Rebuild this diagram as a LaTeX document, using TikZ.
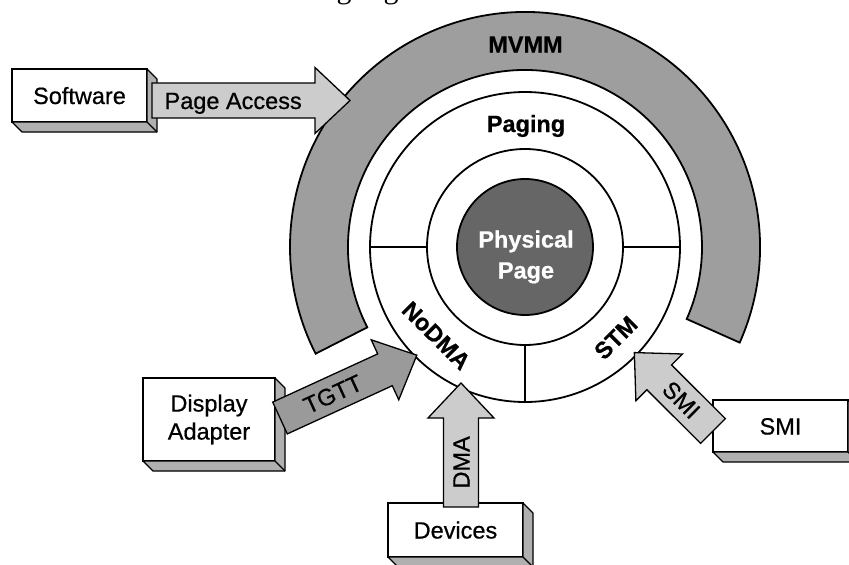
\documentclass[tikz,border=0pt]{standalone}
\usepackage{fontspec}
\setmainfont{Liberation Sans}[FakeBold=0.6]
\newfontfamily\captionserif{Liberation Serif}
\usetikzlibrary{calc}

\definecolor{bandgray}{HTML}{9E9E9E}
\definecolor{physgray}{HTML}{666666}
\definecolor{sidegray}{HTML}{B0B0B0}
\definecolor{lightfill}{HTML}{CCCCCC}
\definecolor{darkfill}{HTML}{9A9A9A}

% extruded bottom and right faces of a box node
\newcommand\extrudebox[1]{%
  \draw[sideface] (#1.north east) -- ($(#1.north east)+(10,-10)$)
    -- ($(#1.south east)+(10,-10)$) -- ($(#1.south west)+(10,-10)$)
    -- (#1.south west) -- (#1.south east) -- cycle;
  \draw[sideface] (#1.south east) -- ($(#1.south east)+(10,-10)$);}

\begin{document}
\begin{tikzpicture}[x=1pt,y=1pt,
  ring/.style={draw=black, line width=1.8pt},
  band/.style={draw=black, line width=1.8pt, fill=bandgray, line join=miter},
  txt/.style={font=\fontsize{23.5}{28}\selectfont, inner sep=0pt},
  btxt/.style={font=\bfseries\fontsize{23.5}{28}\selectfont, inner sep=0pt,
    text height=17pt, text depth=0pt},
  capmid/.style={text height=17pt, text depth=0pt},
  blockbox/.style={draw=black, line width=1.4pt, fill=white, inner sep=0pt,
    outer sep=0pt, txt},
  sideface/.style={draw=black, line width=1.2pt, fill=sidegray, line join=round},
  blockarrow/.style={draw=black, line width=1.3pt, fill=#1, line join=miter,
    to path={let \p1=($(\tikztotarget)-(\tikztostart)$),
      \n1={atan2(\y1,\x1)}, \n2={veclen(\x1,\y1)-35} in
      ($(\tikztostart)+(\n1+90:17.5)$) -- ++(\n1:\n2) -- ++(\n1+90:15.5)
      -- (\tikztotarget)
      -- ($(\tikztostart)+(\n1:\n2)+(\n1-90:33)$) -- ++(\n1+90:15.5)
      -- ($(\tikztostart)+(\n1-90:17.5)$) -- cycle}},
  arrowlbl/.style={txt, text height=17pt, text depth=0pt}]

\useasboundingbox (0,0) rectangle (849,-565);
\clip (0,0) rectangle (849,-565);

% descenders of the caption line above
\node[font=\captionserif\fontsize{30}{30}\selectfont, anchor=base, inner sep=0pt]
  (capg1) at (344,1.5) {g};
\node[font=\captionserif\fontsize{30}{30}\selectfont, anchor=base, inner sep=0pt]
  (capg2) at (391,1.5) {g};

\coordinate (C) at (525,-247);

% MVMM band, open at the bottom
\draw[band] ($(C)+(-24:235)$) arc[start angle=-24, end angle=207, radius=235]
  -- ($(C)+(207:177)$) arc[start angle=207, end angle=-24, radius=177] -- cycle;

% paging ring split into its sectors
\draw[ring, fill=white] (C) circle[radius=155];
\draw[ring] (C) circle[radius=98];
\draw[ring] ($(C)+(180:98)$) -- ($(C)+(180:155)$);
\draw[ring] ($(C)+(0:98)$) -- ($(C)+(0:155)$);
\draw[ring] ($(C)+(270:98)$) -- ($(C)+(270:155)$);
\draw[ring, fill=physgray] (C) circle[radius=68];

\node[btxt] (mvmm) at (525.5,-44) {MVMM};
\node[btxt] (paging) at (526,-123.5) {Paging};
\node[btxt, text=white] (phys1) at (526,-239) {Physical};
\node[btxt, text=white] (phys2) at (526,-270) {Page};
\node[btxt, rotate=-45] (nodma) at ($(C)+(225:125)$) {NoDMA};
\node[btxt, rotate=45] (stm) at ($(C)+(-45:128)$) {STM};

% source boxes
\node[blockbox, capmid, minimum width=135pt, minimum height=53pt] (sw) at (79.5,-95.5) {Software};
\node[blockbox, align=center, minimum width=132pt, minimum height=83pt] (da) at (209,-419.5) {Display\\Adapter};
\node[blockbox, capmid, minimum width=135pt, minimum height=54pt] (dev) at (455.5,-530) {Devices};
\node[blockbox, capmid, minimum width=135pt, minimum height=52pt] (smi) at (780.5,-426) {SMI};
\extrudebox{sw}
\extrudebox{da}
\extrudebox{dev}
\extrudebox{smi}

% access paths into the rings
\coordinate (paTail) at ($(sw.east)+(5,-5)$);
\coordinate (paTip) at ($(paTail)+(198,0)$);
\coordinate (tgTail) at ($(da.east)+(5,1.5)$);
\coordinate (tgTip) at ($(C)+(225:153)$);
\coordinate (dmaTail) at ($(dev.north)+(5.5,-4)$);
\coordinate (dmaTip) at ($(dmaTail)+(0,124)$);
\coordinate (smiTail) at ($(smi.west)+(0,-5)$);
\coordinate (smiTip) at ($(C)+(-44:152)$);

\draw[blockarrow=lightfill] (paTail) to (paTip);
\draw[blockarrow=darkfill] (tgTail) to (tgTip);
\draw[blockarrow=lightfill] (dmaTail) to (dmaTip);
\draw[blockarrow=lightfill] (smiTail) to (smiTip);

\path (paTail) -- node[arrowlbl, sloped, pos=0.41] (paLbl) {Page Access} (paTip);
\path (tgTail) -- node[arrowlbl, sloped, pos=0.385] (tgLbl) {TGTT} (tgTip);
\path (dmaTail) -- node[arrowlbl, rotate=90, pos=0.36] (dmaLbl) {DMA} (dmaTip);
\path (smiTail) -- node[arrowlbl, sloped, pos=0.4] (smiLbl) {SMI} (smiTip);

\end{tikzpicture}
\end{document}
